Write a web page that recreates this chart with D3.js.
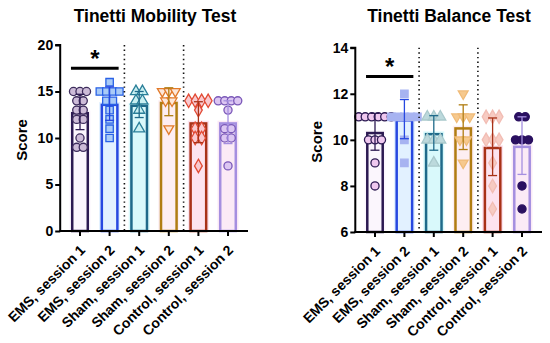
<!doctype html>
<html lang="en">
<head>
  <meta charset="utf-8">
  <title>Tinetti tests</title>
  <style>
    body { margin: 0; background: #fff; }
    text { font-family: "Liberation Sans", Arial, sans-serif; font-weight: bold; }
  </style>
  <script src="https://d3js.org/d3.v7.min.js"></script>
</head>
<body>
<svg id="chart" width="550" height="343"></svg>
<script>
  const categories = ["EMS, session 1", "EMS, session 2", "Sham, session 1",
                      "Sham, session 2", "Control, session 1", "Control, session 2"];

  // Tinetti Mobility Test
  const mobilityMean = [12.8, 13.7, 13.6, 13.9, 11.7, 11.7];
  const mobilitySD = [1.9, 1.8, 1.4, 1.5, 2.2, 2.3];
  const mobilityPoints = [
    [15, 15, 15, 14, 14, 13, 13, 12, 12, 10, 9, 9],
    [16, 15, 15, 15, 15, 14, 14, 13, 12, 11, 10],
    [15, 15, 14, 14, 13, 11],
    [15, 15, 15, 14, 14, 11],
    [14, 14, 14, 14, 13, 11, 11, 10, 10, 7],
    [14, 14, 14, 14, 13, 11, 11, 10, 10, 7]
  ];
  const mobilityTicks = [0, 5, 10, 15, 20];

  // Tinetti Balance Test
  const balanceMean = [10.35, 10.9, 10.3, 10.55, 9.7, 9.75];
  const balanceSD = [0.8, 0.85, 0.75, 0.97, 1.25, 1.25];
  const balancePoints = [
    [11, 11, 11, 11, 11, 11, 10, 10, 10, 9, 8],
    [12, 11, 11, 11, 11, 11, 10, 9],
    [11, 11, 11, 10, 10, 10, 9],
    [12, 11, 11, 11, 10, 10, 9],
    [11, 11, 11, 10, 10, 10, 9, 8, 7],
    [11, 11, 10, 10, 10, 8, 7]
  ];
  const balanceTicks = [6, 8, 10, 12, 14];

  const barStroke = ["#2c1a52", "#2748e0", "#1f6a8a", "#b07d12", "#a83218", "#a58fe0"];
  const barFill = ["#fbf6fd", "#e2f1ff", "#d9f9fb", "#fdeef2", "#fde3ef", "#fbeaf6"];
  const shapes = [d3.symbolCircle, d3.symbolSquare, d3.symbolTriangle, "down", d3.symbolDiamond, d3.symbolCircle];

  const mobilityMarkFill = ["#cdbcd8", "#a9cbf7", "#c9f0f2", "#fde7d9", "#f9c9cf", "#dcc6f2"];
  const mobilityMarkStroke = ["#3d2c5c", "#2a62e6", "#2a7f99", "#e27a2a", "#e24a34", "#7a58b8"];
  const balanceMarkFill = ["#efc8ef", "#a7b3f1", "#bcd9dc", "#f6c98e", "#f7cbc2", "#2a1060"];
  const balanceMarkStroke = ["#2c1a52", "#a7b3f1", "#a9c9cc", "#f0bb78", "#f2bdb4", "#2a1060"];

  const svg = d3.select("#chart");

  function drawPanel(opt) {
    const g = svg.append("g");
    const x = d3.scaleBand().domain(categories)
      .range([opt.x0, opt.x1]).paddingInner(0.39).paddingOuter(0.195);
    const y = d3.scaleLinear().domain(opt.domain).range([opt.yBottom, opt.yTop]);
    const bw = x.bandwidth();

    // bars
    const bars = g.selectAll(".bar").data(categories).enter().append("g");
    bars.append("rect")
      .attr("x", d => x(d) - 1.5)
      .attr("y", (d, i) => y(opt.mean[i]) - 1.5)
      .attr("width", bw + 3)
      .attr("height", (d, i) => y(opt.domain[0]) - y(opt.mean[i]) + 1.5)
      .attr("fill", (d, i) => barFill[i]);
    bars.append("rect")
      .attr("x", d => x(d) + 1.25)
      .attr("y", (d, i) => y(opt.mean[i]) + 1.25)
      .attr("width", bw - 2.5)
      .attr("height", (d, i) => y(opt.domain[0]) - y(opt.mean[i]) - 1.25)
      .attr("fill", "none")
      .attr("stroke", (d, i) => barStroke[i])
      .attr("stroke-width", 2.5);

    // points, same values spread sideways
    categories.forEach((c, i) => {
      const cx = x(c) + bw / 2;
      const groups = d3.groups(opt.points[i], v => v);
      groups.forEach(([v, arr]) => {
        arr.forEach((_, k) => {
          const dx = (k - (arr.length - 1) / 2) * 6.5;
          const sh = shapes[i];
          const sym = sh === "down" ? d3.symbol(d3.symbolTriangle, 42) : d3.symbol(sh, sh === d3.symbolSquare ? 55 : 52);
          g.append("path")
            .attr("d", sym())
            .attr("transform", `translate(${cx + dx},${y(v)})` + (sh === "down" ? " rotate(180)" : ""))
            .attr("fill", opt.markFill[i])
            .attr("stroke", opt.markStroke[i])
            .attr("stroke-width", 1.3);
        });
      });
    });

    // error bars
    categories.forEach((c, i) => {
      const cx = x(c) + bw / 2;
      const lo = y(opt.mean[i] - opt.sd[i]), hi = y(opt.mean[i] + opt.sd[i]);
      g.append("line").attr("x1", cx).attr("x2", cx).attr("y1", lo).attr("y2", hi)
        .attr("stroke", barStroke[i]).attr("stroke-width", 1.3);
      [lo, hi].forEach(yy => g.append("line")
        .attr("x1", cx - 4.5).attr("x2", cx + 4.5).attr("y1", yy).attr("y2", yy)
        .attr("stroke", barStroke[i]).attr("stroke-width", 1.3));
    });

    // dotted separators
    [[1, 2], [3, 4]].forEach(([a, b]) => {
      const sx = (x(categories[a]) + x(categories[b]) + bw) / 2;
      g.append("line").attr("x1", sx).attr("x2", sx)
        .attr("y1", opt.yTop).attr("y2", opt.yBottom)
        .attr("stroke", "#111").attr("stroke-width", 1.6)
        .attr("stroke-dasharray", "1.4,3.2");
    });

    // significance
    g.append("line")
      .attr("x1", x(categories[0])).attr("x2", x(categories[1]) + bw)
      .attr("y1", y(opt.sigY)).attr("y2", y(opt.sigY))
      .attr("stroke", "#000").attr("stroke-width", 3);
    g.append("text")
      .attr("x", (x(categories[0]) + x(categories[1]) + bw) / 2)
      .attr("y", y(opt.sigY) - 1)
      .attr("text-anchor", "middle")
      .style("font-size", "24px")
      .text("*");

    // axes
    const yAxis = g.append("g").attr("transform", `translate(${opt.x0 - 5},0)`)
      .call(d3.axisLeft(y).tickValues(opt.ticks).tickSize(5).tickPadding(2));
    yAxis.select(".domain").attr("stroke-width", 2).attr("d", `M-5,${opt.yTop}H0V${opt.yBottom}`);
    yAxis.selectAll(".tick line").attr("stroke-width", 2);
    yAxis.selectAll(".tick text").style("font-size", "14px").style("font-family", "Liberation Sans, Arial")
      .style("font-weight", "bold").attr("fill", "#000");

    const xAxis = g.append("g").attr("transform", `translate(0,${opt.yBottom})`)
      .call(d3.axisBottom(x).tickSize(5).tickFormat(""));
    xAxis.select(".domain").attr("stroke-width", 2)
      .attr("d", `M${opt.x0 - 6},0H${opt.axisEnd}`);
    xAxis.selectAll(".tick line").attr("stroke-width", 2);

    categories.forEach(c => {
      g.append("text")
        .attr("transform", `translate(${x(c) + bw / 2 + 6},${opt.yBottom + 20}) rotate(-45)`)
        .attr("text-anchor", "end")
        .style("font-size", "14px")
        .text(c);
    });

    g.append("text")
      .attr("transform", `translate(${opt.scoreX},${(opt.yTop + opt.yBottom) / 2 + 2}) rotate(-90)`)
      .attr("text-anchor", "middle")
      .style("font-size", "15px")
      .text("Score");

    g.append("text")
      .attr("x", opt.titleX).attr("y", 22)
      .attr("text-anchor", "middle")
      .style("font-size", "17.5px")
      .text(opt.title);
  }

  drawPanel({
    title: "Tinetti Mobility Test", titleX: 155, scoreX: 27,
    x0: 65.2, x1: 242.8, axisEnd: 248, yTop: 45, yBottom: 231,
    domain: [0, 20], ticks: mobilityTicks,
    mean: mobilityMean, sd: mobilitySD, points: mobilityPoints,
    markFill: mobilityMarkFill, markStroke: mobilityMarkStroke, sigY: 17.5
  });

  drawPanel({
    title: "Tinetti Balance Test", titleX: 449, scoreX: 322,
    x0: 360.3, x1: 536.7, axisEnd: 542, yTop: 47.7, yBottom: 232,
    domain: [6, 14], ticks: balanceTicks,
    mean: balanceMean, sd: balanceSD, points: balancePoints,
    markFill: balanceMarkFill, markStroke: balanceMarkStroke, sigY: 12.75
  });
</script>
</body>
</html>
